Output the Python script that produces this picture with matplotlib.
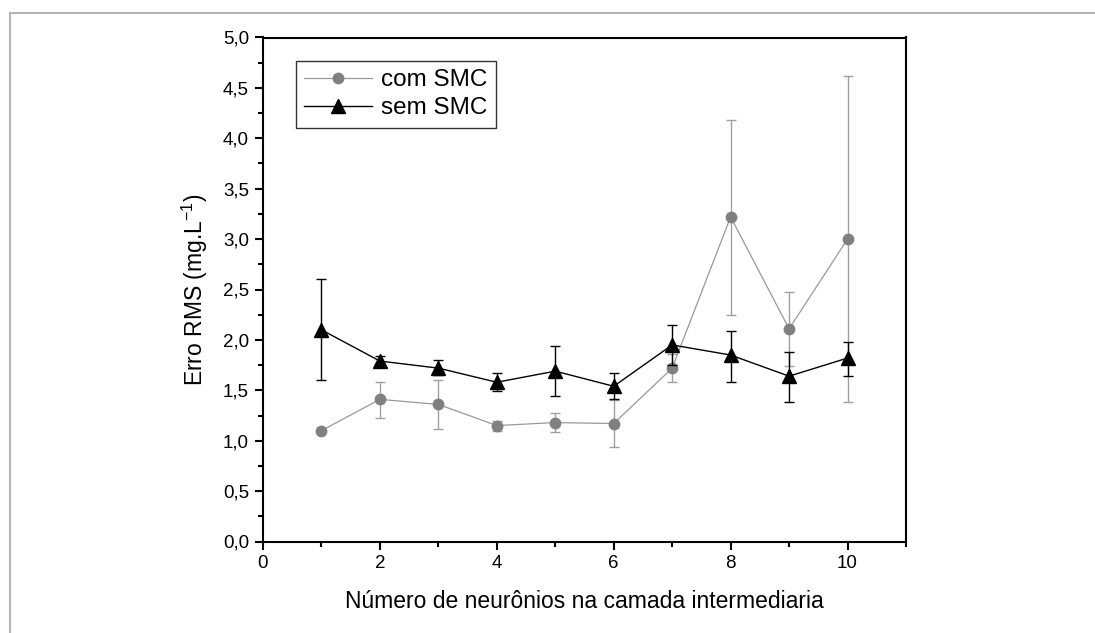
import matplotlib
matplotlib.use('Agg')
import matplotlib.pyplot as plt
from matplotlib.ticker import MultipleLocator, FuncFormatter
from matplotlib.lines import Line2D
import numpy as np

plt.rcParams['font.family'] = ['Liberation Sans', 'DejaVu Sans']
plt.rcParams['mathtext.default'] = 'regular'

# number of neurons in the hidden layer
neurons = [1, 2, 3, 4, 5, 6, 7, 8, 9, 10]

# com SMC (grey circles)
com_smc = [1.10, 1.41, 1.36, 1.15, 1.18, 1.17, 1.72, 3.22, 2.11, 3.00]
com_upper = [1.12, 1.58, 1.60, 1.20, 1.27, 1.40, 1.86, 4.18, 2.48, 4.62]
com_lower = [1.08, 1.23, 1.12, 1.10, 1.085, 0.94, 1.58, 2.25, 1.74, 1.38]

# sem SMC (black triangles)
sem_smc = [2.10, 1.79, 1.72, 1.58, 1.69, 1.54, 1.95, 1.85, 1.64, 1.82]
sem_upper = [2.60, 1.84, 1.80, 1.67, 1.94, 1.67, 2.15, 2.09, 1.88, 1.98]
sem_lower = [1.60, 1.75, 1.65, 1.49, 1.44, 1.41, 1.75, 1.585, 1.38, 1.64]

x_label = 'Número de neurônios na camada intermediaria'
y_label = 'Erro RMS (mg.L$^{-1}$)'

fig = plt.figure(figsize=(10.95, 6.33), dpi=100)
ax = fig.add_axes([263 / 1095, 1 - 541.5 / 633, 643 / 1095, 504 / 633])

# grey page border (top and left only visible)
fig.add_artist(Line2D([10 / 1095, 1.0], [1 - 12.5 / 633] * 2, color='#b4b4b4', lw=1.5))
fig.add_artist(Line2D([10 / 1095] * 2, [0.0, 1 - 12.5 / 633], color='#b4b4b4', lw=1.5))

com_err = [np.array(com_smc) - np.array(com_lower), np.array(com_upper) - np.array(com_smc)]
sem_err = [np.array(sem_smc) - np.array(sem_lower), np.array(sem_upper) - np.array(sem_smc)]

com_style = dict(color='#999999', lw=0.9, marker='o', markersize=7.5,
                 markerfacecolor='#808080', markeredgecolor='#808080')
sem_style = dict(color='black', lw=1.0, marker='^', markersize=10,
                 markerfacecolor='black', markeredgecolor='black')

ax.errorbar(neurons, com_smc, yerr=com_err, ecolor='#a0a0a0', elinewidth=1.0,
            capsize=3.8, capthick=1.0, zorder=2, **com_style)
ax.errorbar(neurons, sem_smc, yerr=sem_err, ecolor='black', elinewidth=1.0,
            capsize=3.8, capthick=1.0, zorder=3, **sem_style)

ax.set_xlim(0, 11)
ax.set_ylim(0, 5)
ax.xaxis.set_major_locator(MultipleLocator(2))
ax.xaxis.set_minor_locator(MultipleLocator(1))
ax.yaxis.set_major_locator(MultipleLocator(0.5))
ax.yaxis.set_minor_locator(MultipleLocator(0.25))
ax.yaxis.set_major_formatter(FuncFormatter(lambda v, p: f'{v:.1f}'.replace('.', ',')))

for s in ax.spines.values():
    s.set_linewidth(1.5)
ax.tick_params(which='major', direction='out', length=6, width=1.5, labelsize=13.5, pad=4)
ax.tick_params(which='minor', direction='out', length=3.5, width=1.5)
ax.tick_params(top=False, right=False)

ax.set_xlabel(x_label, fontsize=16.5)
ax.set_ylabel(y_label, fontsize=16.5)
ax.xaxis.set_label_coords(0.5, -0.097)
ax.yaxis.set_label_coords(-0.082, 0.5)

handles = [Line2D([], [], **com_style), Line2D([], [], **sem_style)]
leg = ax.legend(handles, ['com SMC', 'sem SMC'], loc='upper left',
                bbox_to_anchor=(0.051, 0.954), borderaxespad=0,
                fontsize=17.5, frameon=True, fancybox=False, handlelength=2.8,
                handletextpad=0.35, labelspacing=0.25, borderpad=0.35)
leg.get_frame().set_edgecolor('black')
leg.get_frame().set_linewidth(1.0)

fig.savefig('out.png', dpi=100)
